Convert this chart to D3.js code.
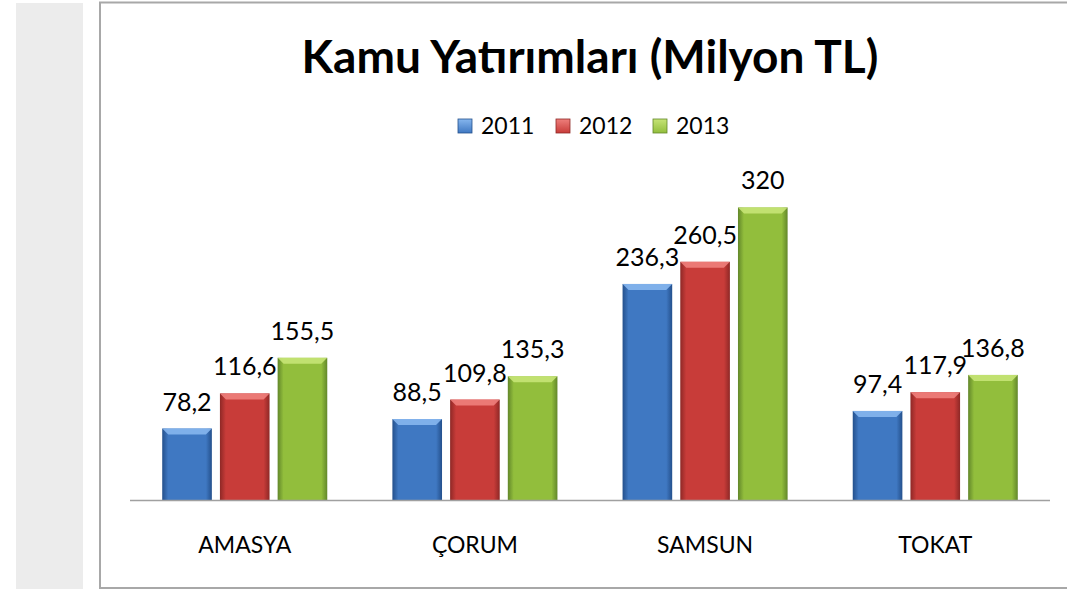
<!DOCTYPE html>
<html>
<head>
<meta charset="utf-8">
<script src="https://cdn.jsdelivr.net/npm/d3@7"></script>
<style>
  body { margin: 0; background: #fff; }
  svg { display: block; font-family: Lato, "Open Sans", sans-serif; }
</style>
</head>
<body>
<script>
const cities = ["AMASYA", "ÇORUM", "SAMSUN", "TOKAT"];
const years = ["2011", "2012", "2013"];
const v2011 = [78.2, 88.5, 236.3, 97.4];
const v2012 = [116.6, 109.8, 260.5, 117.9];
const v2013 = [155.5, 135.3, 320, 136.8];
const colors = ["#3f78c2", "#c83c39", "#92be3c"];
const darks = ["#24508c", "#8e2826", "#62872a"];
const lights = ["#86b6ee", "#ee7f7c", "#c6e476"];

const w = 1067;
const h = 589;

const series = [v2011, v2012, v2013];
const rows = cities.map((c, i) => ({ city: c, vals: series.map((s, j) => ({ year: years[j], k: j, v: s[i] })) }));

const svg = d3.select("body").append("svg").attr("width", w).attr("height", h);

// left gray strip + chart frame
svg.append("rect").attr("x", 16).attr("y", 3).attr("width", 67).attr("height", h - 3).attr("fill", "#ececec");
svg.append("rect").attr("x", 100).attr("y", 2.5).attr("width", w).attr("height", 585.5)
    .attr("fill", "#fff").attr("stroke", "#a8a8a8").attr("stroke-width", 2);

const defs = svg.append("defs");
colors.forEach((c, k) => {
    const g = defs.append("linearGradient").attr("id", "g" + k).attr("x1", 0).attr("x2", 1).attr("y1", 0).attr("y2", 0);
    g.append("stop").attr("offset", "0%").attr("stop-color", darks[k]);
    g.append("stop").attr("offset", "12%").attr("stop-color", c);
    g.append("stop").attr("offset", "88%").attr("stop-color", c);
    g.append("stop").attr("offset", "100%").attr("stop-color", darks[k]);
    const t = defs.append("linearGradient").attr("id", "t" + k).attr("x1", 0).attr("x2", 0).attr("y1", 0).attr("y2", 1);
    t.append("stop").attr("offset", "0%").attr("stop-color", lights[k]);
    t.append("stop").attr("offset", "100%").attr("stop-color", c);
});

const x0 = d3.scaleBand().domain(cities).range([130, 1050]).paddingInner(0.283).paddingOuter(0.14);
const x1 = d3.scaleBand().domain(years).range([0, x0.bandwidth()]).paddingInner(0.14);
const y = d3.scaleLinear().domain([0, 350]).range([500, 180]);

// title
svg.append("text").attr("x", 590).attr("y", 73).attr("text-anchor", "middle")
    .attr("font-size", 46).attr("font-weight", "bold").attr("fill", "#000")
    .text("Kamu Yatırımları (Milyon TL)");

// legend
const legendX = [458, 556, 653];
const legend = svg.append("g").selectAll("g").data(years).join("g")
    .attr("transform", (d, i) => `translate(${legendX[i]},119)`);
legend.append("rect").attr("width", 14).attr("height", 14).attr("fill", (d, i) => `url(#t${i})`)
    .attr("stroke", (d, i) => darks[i]).attr("stroke-width", 0.8);
legend.append("text").attr("x", 23).attr("y", 15).attr("font-size", 23).attr("fill", "#000").text(d => d);

// bars
const groups = svg.append("g").selectAll("g").data(rows).join("g")
    .attr("transform", d => `translate(${x0(d.city)},0)`);

const bars = groups.selectAll("g").data(d => d.vals).join("g");
bars.append("rect")
    .attr("x", d => x1(d.year)).attr("y", d => y(d.v))
    .attr("width", x1.bandwidth()).attr("height", d => y(0) - y(d.v))
    .attr("fill", d => `url(#g${d.k})`);
// top bevel
bars.append("path")
    .attr("d", d => {
        const a = x1(d.year), b = a + x1.bandwidth(), t = y(d.v);
        return `M${a},${t}L${b},${t}L${b - 6},${t + 6}L${a + 6},${t + 6}Z`;
    })
    .attr("fill", d => lights[d.k]).attr("opacity", 0.9);
bars.append("text")
    .attr("x", d => x1(d.year) + x1.bandwidth() / 2).attr("y", d => y(d.v) - 18)
    .attr("text-anchor", "middle").attr("font-size", 25).attr("fill", "#000")
    .text(d => String(d.v).replace(".", ","));

// baseline
svg.append("line").attr("x1", 130).attr("x2", 1050).attr("y1", y(0) + 0.5).attr("y2", y(0) + 0.5)
    .attr("stroke", "#a0a0a0").attr("stroke-width", 1.5);

// category labels
svg.append("g").selectAll("text").data(cities).join("text")
    .attr("x", d => x0(d) + x0.bandwidth() / 2).attr("y", 553)
    .attr("text-anchor", "middle").attr("font-size", 23).attr("fill", "#000")
    .text(d => d);
</script>
</body>
</html>
